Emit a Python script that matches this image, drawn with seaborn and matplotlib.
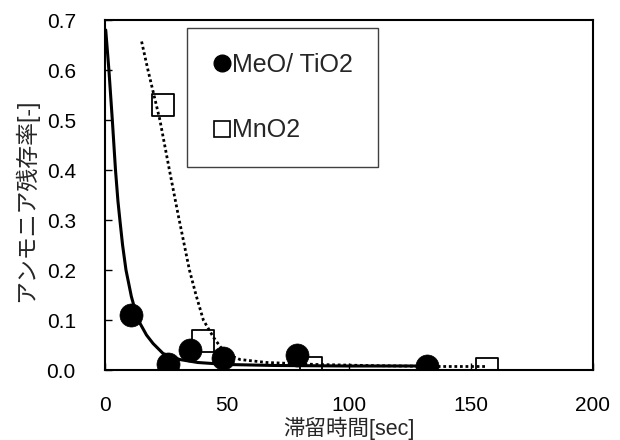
import matplotlib
matplotlib.use("Agg")
import matplotlib.pyplot as plt
from matplotlib.lines import Line2D
import seaborn as sns
import pandas as pd

# --- data ---
meo_x = [10.5, 26.0, 34.8, 48.4, 78.7, 132.0]
meo_y = [0.110, 0.013, 0.040, 0.024, 0.030, 0.008]

mno2_x = [23.6, 40.2, 84.4, 156.6]
mno2_y = [0.531, 0.058, 0.004, 0.002]

# fitted curves
fit_meo_x = [0.3, 1.6, 3.0, 4.3, 5.3, 6.1, 7.2, 8.6, 10.8, 12.5, 14.5, 17.0, 19.7,
             23.8, 30.6, 38.0, 50.0, 70.0, 100.0, 134.0]
fit_meo_y = [0.680, 0.600, 0.500, 0.400, 0.338, 0.300, 0.250, 0.200, 0.147, 0.117,
             0.092, 0.070, 0.053, 0.033, 0.021, 0.015, 0.011, 0.009, 0.008, 0.008]

fit_mno2_x = [15.0, 17.6, 22.5, 26.4, 30.0, 34.6, 37.3, 40.3, 44.5, 47.5, 51.0,
              55.3, 66.3, 86.8, 107.0, 137.0, 156.4]
fit_mno2_y = [0.657, 0.600, 0.500, 0.400, 0.310, 0.200, 0.150, 0.100, 0.065, 0.045,
              0.030, 0.021, 0.015, 0.011, 0.009, 0.007, 0.007]

xticks = [0, 50, 100, 150, 200]
yticks = [0.0, 0.1, 0.2, 0.3, 0.4, 0.5, 0.6, 0.7]
labels = ["MeO/ TiO2", "MnO2"]
xlabel = "滞留時間[sec]"
ylabel = "アンモニア残存率[-]"

sns.set_style("white")
plt.rcParams["font.family"] = ["Liberation Sans", "Noto Sans CJK JP", "DejaVu Sans"]

fig = plt.figure(figsize=(6.2, 4.4), dpi=100)
ax = fig.add_axes([105 / 620, 70 / 440, 488 / 620, 350 / 440])

df_meo = pd.DataFrame({"x": meo_x, "y": meo_y})
df_mno2 = pd.DataFrame({"x": mno2_x, "y": mno2_y})
df_fm = pd.DataFrame({"x": fit_meo_x, "y": fit_meo_y})
df_fn = pd.DataFrame({"x": fit_mno2_x, "y": fit_mno2_y})

sns.scatterplot(data=df_mno2, x="x", y="y", ax=ax, marker="s", s=250,
                facecolor="white", edgecolor="black", linewidth=1.3, zorder=2)
sns.lineplot(data=df_fm, x="x", y="y", ax=ax, color="black", linewidth=2.2,
             estimator=None, sort=False, zorder=3)
sns.lineplot(data=df_fn, x="x", y="y", ax=ax, color="black", linewidth=2.0,
             linestyle=(0, (1, 1)), estimator=None, sort=False, zorder=3)
sns.scatterplot(data=df_meo, x="x", y="y", ax=ax, marker="o", s=275,
                color="black", edgecolor="black", linewidth=0.5, zorder=4)

ax.set_xlim(0, 200)
ax.set_ylim(0, 0.7)
ax.set_xticks(xticks)
ax.set_xticklabels([str(t) for t in xticks])
ax.set_yticks(yticks)
ax.set_yticklabels([f"{t:.1f}" for t in yticks])
ax.tick_params(axis="both", direction="in", length=5, width=1, pad=21,
               labelsize=15, colors="black", left=True, bottom=True)
ax.tick_params(axis="x", pad=19)

for s in ax.spines.values():
    s.set_color("black")
    s.set_linewidth(1.5)

ax.set_xlabel(xlabel, fontsize=15.5)
ax.set_ylabel(ylabel, fontsize=16.5)
ax.xaxis.set_label_coords(0.5, -0.135)
ax.yaxis.set_label_coords(-0.137, 0.486)

handles = [
    Line2D([], [], marker="o", linestyle="none", markersize=12,
           markerfacecolor="black", markeredgecolor="black"),
    Line2D([], [], marker="s", linestyle="none", markersize=11,
           markerfacecolor="white", markeredgecolor="black", markeredgewidth=1.2),
]
leg = ax.legend(handles, labels, loc="upper left",
                bbox_to_anchor=(82 / 488, (370 - 28) / 350),
                borderaxespad=0, fontsize=18, frameon=True, fancybox=False,
                edgecolor="#404040", framealpha=1, borderpad=1.0,
                handlelength=0.8, handletextpad=0.0, labelspacing=1.65)
leg.get_frame().set_linewidth(1.0)

fig.savefig("out.png", dpi=100)
